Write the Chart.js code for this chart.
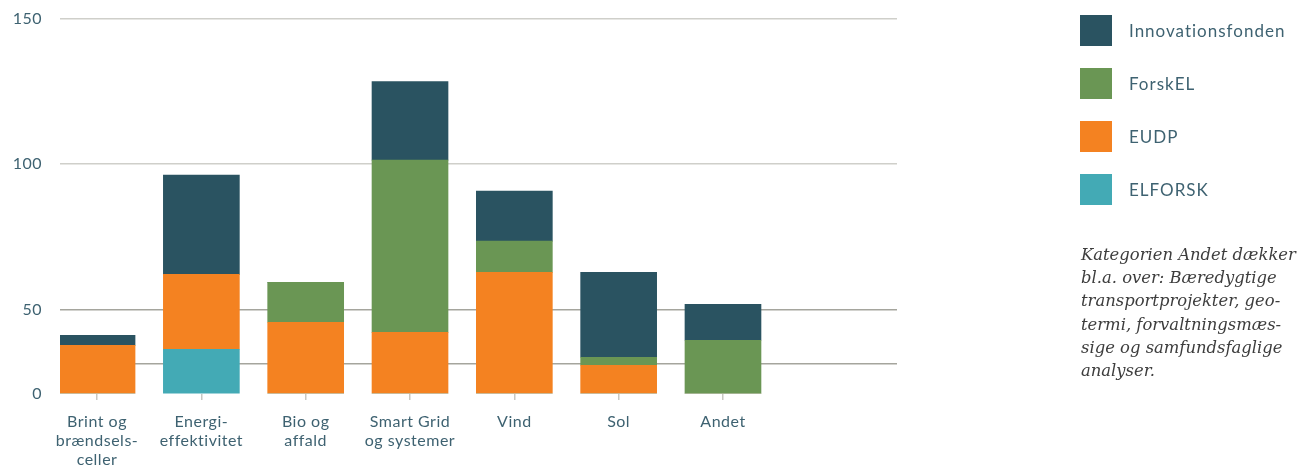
<!DOCTYPE html>
<html lang="da">
<head>
<meta charset="utf-8">
<title>Bevillinger fordelt på teknologiområder</title>
<script src="https://cdn.jsdelivr.net/npm/chart.js@4/dist/chart.umd.min.js"></script>
<style>
  body { margin: 0; background: #fff; }
  #wrap { position: relative; width: 1303px; height: 471px; }
  #legend { position: absolute; left: 1080px; top: 15px; margin: 0; padding: 0; list-style: none; }
  #legend li { display: flex; align-items: center; height: 31px; margin-bottom: 22px;
               font: 17px Lato, sans-serif; letter-spacing: 1px; color: #3e6271; }
  #legend .box { width: 32px; height: 31px; margin-right: 17px; }
  #note { position: absolute; left: 1081px; top: 243px; margin: 0; width: 222px;
          font: italic 16.4px "DejaVu Serif", serif; line-height: 23.2px; color: #3d3d3d; }
</style>
</head>
<body>
<div id="wrap">
  <canvas id="fundChart"></canvas>
  <ul id="legend"></ul>
  <p id="note">Kategorien Andet dækker<br>bl.a. over: Bæredygtige<br>transportprojekter, geo-<br>termi, forvaltningsmæs-<br>sige og samfundsfaglige<br>analyser.</p>
</div>
<script>
// Categories (x-axis), multi-line labels
const categories = [
    ['Brint og', 'brændsels-', 'celler'],
    ['Energi-', 'effektivitet'],
    ['Bio og', 'affald'],
    ['Smart Grid', 'og systemer'],
    'Vind',
    'Sol',
    'Andet'
];

// Series values, bottom of stack first
const elforsk = [0, 31.5, 0, 0, 0, 0, 0];
const eudp = [33.4, 30.6, 44.1, 39.4, 62.8, 23.4, 0];
const forskel = [0, 0, 15.3, 62.0, 10.7, 4.4, 35.7];
const innovationsfonden = [4.6, 34.1, 0, 27.0, 17.2, 35.0, 16.1];

// y-axis ticks; the gridline at 25 has no label in the original
const yTicks = [0, 25, 50, 100, 150];
const yTickLabels = ['0', '', '50', '100', '150'];

// The original axis is not linear: the lower part is squeezed.
// Fraction of the axis height at each tick value.
const yTickFractions = [0, 0.082, 0.2252, 0.613, 1];

function interpolate(v, from, to) {
    if (v <= from[0]) return to[0];
    for (let i = 1; i < from.length; i++) {
        if (v <= from[i]) {
            const t = (v - from[i - 1]) / (from[i] - from[i - 1]);
            return to[i - 1] + t * (to[i] - to[i - 1]);
        }
    }
    return to[to.length - 1];
}

class SplitScale extends Chart.LinearScale {
    buildTicks() {
        return yTicks.map(v => ({ value: v }));
    }
    getPixelForValue(value) {
        return this.getPixelForDecimal(interpolate(value, yTicks, yTickFractions));
    }
    getValueForPixel(pixel) {
        return interpolate(this.getDecimalForPixel(pixel), yTickFractions, yTicks);
    }
}
SplitScale.id = 'split';
SplitScale.defaults = {};
Chart.register(SplitScale);

// a little tracking on the canvas text, like the original typeface
const letterSpacing = {
    id: 'letterSpacing',
    beforeUpdate: chart => { chart.ctx.letterSpacing = '0.5px'; },
    beforeDraw: chart => { chart.ctx.letterSpacing = '0.5px'; }
};

const toPoints = arr => arr.map((v, i) => ({ x: i, y: v }));

const textColor = '#3e6271';

const ctx = document.getElementById('fundChart').getContext('2d');
const chart = new Chart(ctx, {
    type: 'bar',
    data: {
        datasets: [
            { label: 'ELFORSK', data: toPoints(elforsk), backgroundColor: '#43aab5' },
            { label: 'EUDP', data: toPoints(eudp), backgroundColor: '#f48221' },
            { label: 'ForskEL', data: toPoints(forskel), backgroundColor: '#6a9654' },
            { label: 'Innovationsfonden', data: toPoints(innovationsfonden), backgroundColor: '#2a5361' }
        ]
    },
    plugins: [letterSpacing],
    options: {
        responsive: true,
        maintainAspectRatio: false,
        animation: false,
        barThickness: 76,
        borderWidth: 0,
        layout: { padding: { top: 19, right: 406, left: 0, bottom: 0 } },
        plugins: {
            legend: { display: false },
            tooltip: { enabled: false }
        },
        scales: {
            x: {
                type: 'linear',
                stacked: true,
                offset: false,
                min: -0.355,
                max: 7.668,
                afterBuildTicks: s => { s.ticks = categories.map((c, i) => ({ value: i })); },
                afterFit: s => { s.height = 77; },
                border: { display: false },
                grid: { offset: false, drawOnChartArea: false, tickLength: 6, color: '#c8c8c2', lineWidth: 1.5 },
                ticks: {
                    autoSkip: false,
                    maxRotation: 0,
                    padding: 12,
                    color: textColor,
                    font: { family: 'Lato', size: 16 },
                    callback: (v, i) => categories[i]
                }
            },
            y: {
                type: 'split',
                stacked: true,
                min: 0,
                max: 150,
                afterFit: s => {
                    s.width = 60;
                    s.paddingTop = 0;
                    s.paddingBottom = 0;
                },
                border: { display: false },
                grid: {
                    drawTicks: false,
                    lineWidth: 1.5,
                    color: c => {
                        const v = c.tick ? c.tick.value : 0;
                        if (v === 0) return 'rgba(0,0,0,0)';
                        return v >= 100 ? '#cfcfca' : '#a5a59d';
                    }
                },
                ticks: {
                    autoSkip: false,
                    padding: 18,
                    color: textColor,
                    font: { family: 'Lato', size: 16 },
                    callback: (v, i) => yTickLabels[i]
                }
            }
        }
    }
});

// HTML legend, top entry is the top of the stack
const legendEl = document.getElementById('legend');
chart.data.datasets.slice().reverse().forEach(ds => {
    const li = document.createElement('li');
    const box = document.createElement('span');
    box.className = 'box';
    box.style.background = ds.backgroundColor;
    li.appendChild(box);
    li.appendChild(document.createTextNode(ds.label));
    legendEl.appendChild(li);
});
</script>
</body>
</html>
